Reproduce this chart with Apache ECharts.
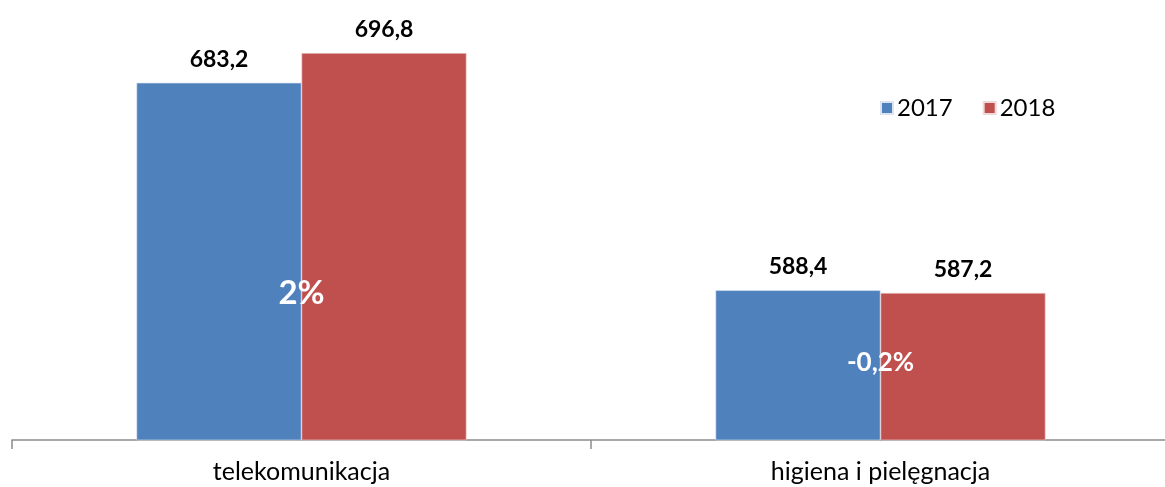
<!DOCTYPE html>
<html>
<head>
<meta charset="utf-8">
<script src="https://cdn.jsdelivr.net/npm/echarts@6/dist/echarts.min.js"></script>
<style>
  html, body { margin: 0; padding: 0; background: #ffffff; overflow: hidden; width: 1165px; height: 487px; }
  /* the plot area runs a few pixels past the right edge of the page */
  #chart { width: 1170px; height: 487px; }
</style>
</head>
<body>
<div id="chart"></div>
<script>
// Sales values by category, 2017 vs 2018
const categories = ['telekomunikacja', 'higiena i pielęgnacja'];
const years = ['2017', '2018'];
const values2017 = [683.2, 588.4];
const values2018 = [696.8, 587.2];
const changeLabels = ['2%', '-0,2%'];

const FONT = 'Lato, "Open Sans", sans-serif';
const fmt = v => v.toFixed(1).replace('.', ',');

const chart = echarts.init(document.getElementById('chart'));

const barLabel = {
  show: true,
  position: 'top',
  distance: 12,
  color: '#000000',
  fontFamily: FONT,
  fontWeight: 'bold',
  fontSize: 23,
  formatter: p => fmt(p.value)
};

chart.setOption({
  animation: false,
  backgroundColor: '#ffffff',
  grid: { left: 12, right: 0, top: 46, bottom: 47, containLabel: false },
  legend: {
    data: years,
    left: 875,
    top: 91,
    itemWidth: 12,
    itemHeight: 12,
    itemGap: 30,
    icon: 'rect',
    textStyle: { fontFamily: FONT, fontSize: 24, color: '#000000', padding: [0, 0, 0, -1] }
  },
  xAxis: {
    type: 'category',
    data: categories,
    axisLine: { show: true, lineStyle: { color: '#8c8c8c', width: 1.5 } },
    axisTick: { show: true, length: 9, alignWithLabel: false, lineStyle: { color: '#8c8c8c', width: 1.5 } },
    axisLabel: { margin: 19, color: '#000000', fontFamily: FONT, fontSize: 25 }
  },
  yAxis: {
    type: 'value',
    min: 520,
    max: 700,
    show: false,
    splitLine: { show: false }
  },
  series: [
    {
      name: years[0],
      type: 'bar',
      data: values2017,
      barWidth: 165,
      barGap: '0%',
      itemStyle: { color: '#4f81bd', borderColor: '#dbe4f0', borderWidth: 0.6 },
      label: barLabel
    },
    {
      name: years[1],
      type: 'bar',
      data: values2018,
      barWidth: 165,
      barGap: '0%',
      itemStyle: { color: '#c0504d', borderColor: '#f0dada', borderWidth: 0.6 },
      label: barLabel
    }
  ]
});

// Year-over-year change labels, drawn in white across the pair of bars
const changeAnchors = [587.2, 555.5];
const changeSizes = [33, 26];
chart.setOption({
  graphic: categories.map((c, i) => {
    const pt = chart.convertToPixel({ gridIndex: 0 }, [c, changeAnchors[i]]);
    return {
      type: 'text',
      x: pt[0],
      y: pt[1],
      style: {
        text: changeLabels[i],
        fill: '#ffffff',
        font: 'bold ' + changeSizes[i] + 'px ' + FONT,
        textAlign: 'center',
        textVerticalAlign: 'middle'
      },
      z: 100
    };
  })
});
</script>
</body>
</html>
